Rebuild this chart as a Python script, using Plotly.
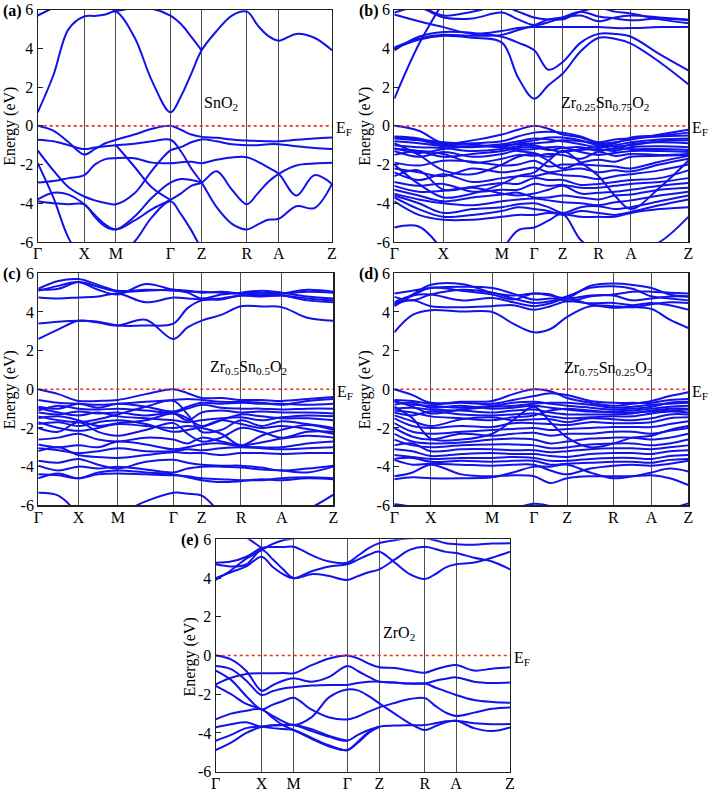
import plotly.graph_objects as go

# ---------------- shared tick data ----------------
K_LABELS = ["Γ", "X", "M", "Γ", "Z", "R", "A", "Z"]
E_TICKS = [-6, -4, -2, 0, 2, 4, 6]
E_TICK_TEXT = ["-6", "-4", "-2", "0", "2", "4", "6"]
E_FERMI = 0.0
N = None

# ---------------- (a) SnO2 ----------------
a_hs = [0, 0.158, 0.266, 0.451, 0.557, 0.711, 0.819, 1.0]
a_k = [0, 0.053, 0.105, 0.158, 0.194, 0.230, 0.266, 0.328, 0.389, 0.451, 0.486,
       0.522, 0.557, 0.608, 0.660, 0.711, 0.747, 0.783, 0.819, 0.879, 0.940, 1.0]
a_c1 = [0.7, 2.6, 5.0, 5.65, 5.68, 5.75, 5.9, 4.6, 2.3, 0.7, 1.5, 2.7, 3.9, 4.9, 5.7, 5.9, 5.2, 4.65, 4.4, 4.75, 4.55, 3.9]
a_c2 = [5.7, 6.1, 6.5, 6.6, 6.4, 6.2, 5.95, 6.1, 6.05, 5.7, 5.27, 4.6, 3.9, N, N, N, N, N, N, N, N, N]
a_v1 = [0, -0.25, -0.85, -1.48, -1.2, -0.9, -0.72, -0.45, -0.15, 0, -0.2, -0.45, -0.57, -0.62, -0.7, -0.76, -0.78, -0.8, -0.8, -0.72, -0.65, -0.6]
a_v2 = [-0.72, -0.8, -1.0, -1.2, -1.12, -1.05, -1.0, -0.92, -0.8, -0.72, -1.3, -2.2, -2.93, -4.2, -5.06, -5.35, -5.1, -4.85, -4.8, -4.15, -4.25, -3.0]
a_v3 = [-1.27, -2.3, -3.17, -3.65, -3.85, -3.98, -4.05, -3.5, -2.3, -1.27, -1.1, -0.85, -0.7, -0.8, -0.95, -1.0, -1.0, -0.95, -0.95, -1.05, -1.15, -1.19]
a_v4 = [-1.93, -3.7, -5.8, -7.0, -7.3, -7.2, -6.8, -6.0, -4.7, -3.9, -4.55, -5.4, -6.3, -7.0, N, N, N, N, N, N, N, N]
a_v5 = [-2.93, -2.85, -2.7, -2.55, -2.0, -1.72, -1.67, -1.67, -1.9, -1.93, -1.88, -1.85, -1.93, -1.75, -1.63, -1.62, -1.85, -2.15, -2.48, -3.6, -2.55, -3.0]
a_v6 = [-3.8, -3.45, -3.55, -4.05, -4.6, -5.1, -5.35, -4.9, -4.3, -3.82, -3.5, -3.1, -2.93, -2.35, -3.3, -4.05, -3.5, -2.9, -2.48, -2.05, -1.95, -1.91]
a_v7 = [-3.9, -4.0, -4.05, -4.05, -4.7, -5.2, -5.35, -4.7, -3.7, -2.93, -2.75, -2.8, -2.93, N, N, N, N, N, N, N, N, N]
a_v8 = [N, N, N, N, N, N, -1.0, -2.1, -3.2, -3.82, N, N, N, N, N, N, N, N, N, N, N, N]

# ---------------- (b) Zr0.25Sn0.75O2 ----------------
b_hs = [0, 0.167, 0.366, 0.476, 0.573, 0.695, 0.805, 1.0]
b_k = [0, 0.083, 0.167, 0.266, 0.366, 0.421, 0.476, 0.524, 0.573, 0.634, 0.695, 0.750, 0.805, 0.902, 1.0]
b_c1 = [1.4, 4.2, 6.4, N, N, N, N, N, N, N, N, N, N, N, N]
b_c2 = [4.0, 4.45, 4.65, 4.55, 4.3, 2.5, 1.4, 2.1, 2.7, 3.85, 4.55, 4.5, 4.25, 3.3, 2.15]
b_c3 = [3.9, 4.6, 4.85, 4.8, 4.6, 4.3, 3.9, 2.9, 3.3, 4.3, 4.75, 4.75, 4.6, 3.7, 2.86]
b_c4 = [5.75, 5.4, 5.1, 4.75, 4.9, 5.05, 5.1, 5.1, 5.1, 5.1, 5.1, 5.05, 5.05, 5.1, 5.1]
b_c5 = [5.85, 6.1, 5.6, 5.55, 5.85, 5.5, 5.2, 5.35, 5.6, 5.9, 5.65, 5.55, 5.45, 5.55, 5.45]
b_c6 = [6.4, 6.2, 5.7, 5.9, 6.2, 5.9, 5.6, 5.5, 5.5, 5.9, 6.1, 5.9, 5.8, 5.5, 5.3]
b_c7 = [4.05, 4.5, 4.7, 4.65, 4.7, 4.95, 5.2, 5.5, 5.6, 5.7, 5.4, 5.6, 5.7, 5.6, 5.5]
b_v1 = [0, -0.25, -0.9, -0.75, -0.45, -0.2, 0, -0.15, -0.45, -0.6, -0.9, -0.85, -0.7, -0.45, -0.2]
b_v2 = [-0.55, -0.65, -0.95, -0.9, -0.8, -0.55, -0.35, -0.3, -0.35, -0.55, -0.85, -0.7, -0.65, -0.55, -0.5]
b_v3 = [-0.65, -0.75, -1.0, -1.05, -0.95, -0.8, -0.65, -0.7, -0.8, -0.95, -1.1, -1.0, -0.85, -0.7, -0.65]
b_v4 = [-0.8, -0.9, -1.05, -1.1, -1.0, -0.95, -0.9, -0.85, -0.75, -0.8, -0.95, -1.05, -1.0, -0.8, -0.75]
b_v5 = [-1.0, -1.1, -1.15, -1.3, -1.2, -1.05, -1.0, -1.2, -1.35, -1.2, -1.05, -1.2, -0.95, -0.85, -0.9]
b_v6 = [-1.15, -1.4, -1.2, -1.05, -1.1, -1.3, -1.4, -1.6, -1.3, -1.25, -1.2, -1.3, -1.1, -1.05, -1.1]
b_v7 = [-1.3, -1.6, -1.35, -1.6, -1.45, -1.25, -1.2, -1.1, -1.1, -1.35, -1.5, -1.4, -1.3, -1.3, -1.35]
b_v8 = [-1.5, -1.3, -1.45, -1.9, -1.7, -1.5, -1.55, -1.45, -1.5, -1.7, -1.35, -1.55, -1.45, -1.5, -1.45]
b_v9 = [-0.9, -1.5, -2.3, -2.5, -2.0, -1.6, -1.45, -1.8, -2.2, -1.9, -1.75, -1.85, -1.6, -1.55, -1.5]
b_v10 = [-1.9, -2.05, -1.8, -1.85, -2.05, -2.0, -1.8, -2.1, -2.0, -2.0, -2.05, -2.1, -2.2, -1.85, -1.55]
b_v11 = [-2.2, -2.4, -2.6, -2.2, -2.4, -2.3, -2.15, -2.4, -2.3, -2.2, -2.4, -2.3, -2.35, -2.0, -1.7]
b_v12 = [-2.4, -2.8, -2.5, -2.9, -2.7, -2.6, -2.6, -2.45, -2.55, -2.6, -2.75, -2.6, -2.5, -2.3, -2.0]
b_v13 = [-2.6, -2.3, -3.3, -3.15, -2.95, -3.0, -2.7, -2.8, -2.8, -3.05, -3.0, -2.9, -2.8, -2.7, -2.3]
b_v14 = [-2.9, -3.1, -3.0, -3.4, -3.3, -3.3, -3.0, -3.1, -3.05, -3.2, -3.2, -3.1, -3.0, -2.9, -2.7]
b_v15 = [-3.1, -3.4, -3.35, -3.2, -3.5, -3.6, -3.5, -3.3, -3.1, -3.5, -3.45, -3.4, -3.3, -3.1, -2.95]
b_v16 = [-3.3, -3.6, -3.9, -3.7, -3.55, -3.45, -3.7, -3.7, -3.6, -3.7, -3.8, -3.6, -3.55, -3.3, -3.2]
b_v17 = [-3.5, -3.8, -4.0, -4.1, -3.9, -3.8, -3.75, -3.85, -3.95, -4.0, -4.1, -3.95, -3.85, -3.6, -3.4]
b_v18 = [-3.6, -4.0, -4.5, -4.3, -4.2, -4.05, -4.0, -4.2, -4.5, -4.2, -4.15, -4.3, -4.2, -3.9, -3.6]
b_v19 = [-3.7, -4.3, -4.7, -4.6, -4.4, -4.2, -4.3, -4.4, -4.6, -4.4, -4.5, -4.6, -4.45, -4.1, -3.8]
b_v20 = [-3.9, -4.6, -4.85, -4.85, -4.7, -4.6, -4.6, -4.5, -4.55, -4.7, -4.7, -4.7, -4.5, -4.3, -4.2]
b_v21 = [-5.25, -5.2, -6.5, N, -6.5, -5.4, -5.25, -4.9, -4.55, -5.9, -6.5, N, -6.5, -6.0, -4.7]
b_v22 = [-0.6, -0.7, -0.85, -0.95, -1.1, -0.9, -0.75, -0.6, -0.6, -0.75, -1.0, -0.9, -0.6, -0.5, -0.35]
b_v23 = [-1.2, -1.3, -1.6, -1.45, -1.3, -1.15, -1.1, -1.25, -1.15, -1.1, -1.3, -1.15, -1.2, -1.2, -1.25]
b_v24 = [-2.0, -3.0, -3.7, -3.5, -3.0, -2.6, -2.4, -1.8, -1.3, -1.9, -2.6, -3.6, -4.3, -3.2, -1.8]

# ---------------- (c) Zr0.5Sn0.5O2 ----------------
c_hs = [0, 0.136, 0.270, 0.458, 0.554, 0.687, 0.825, 1.0]
c_k = [0, 0.068, 0.136, 0.203, 0.270, 0.364, 0.458, 0.506, 0.554, 0.620, 0.687, 0.756, 0.825, 0.912, 1.0]
c_c1 = [2.6, 3.1, 3.55, 3.45, 3.3, 3.6, 2.6, 3.2, 3.55, 3.85, 4.3, 4.28, 4.25, 3.7, 3.55]
c_c2 = [3.4, 3.5, 3.55, 3.5, 3.3, 3.3, 3.4, 4.2, 4.6, 4.65, 4.85, 4.85, 4.85, 4.6, 4.5]
c_c3 = [4.75, 4.7, 4.75, 4.8, 4.95, 4.5, 4.75, 4.7, 4.65, 4.7, 4.85, 4.8, 4.85, 4.7, 4.6]
c_c4 = [5.1, 5.35, 5.55, 5.15, 4.9, 5.45, 5.15, 5.1, 5.0, 5.05, 4.95, 4.9, 4.95, 5.15, 5.05]
c_c5 = [5.15, 5.2, 5.55, 5.3, 5.05, 5.1, 5.15, 5.05, 5.05, 5.0, 4.95, 5.0, 4.95, 5.05, 5.0]
c_c6 = [5.2, 5.6, 5.7, 5.4, 5.1, 5.15, 5.1, 5.0, 4.7, 4.9, 5.0, 5.1, 5.0, 4.8, 4.7]
c_v1 = [0, -0.25, -0.6, -0.6, -0.55, -0.25, 0, -0.2, -0.45, -0.45, -0.55, -0.55, -0.6, -0.5, -0.4]
c_v2 = [-0.55, -0.7, -0.75, -0.8, -0.75, -0.65, -0.55, -0.5, -0.55, -0.65, -0.65, -0.7, -0.8, -0.6, -0.5]
c_v3 = [-0.9, -1.0, -0.75, -0.95, -0.75, -0.9, -1.15, -0.9, -0.7, -0.75, -0.7, -0.75, -0.75, -0.8, -0.75]
c_v4 = [-1.1, -0.85, -1.0, -1.05, -1.0, -1.1, -1.2, -1.0, -0.8, -0.95, -1.0, -1.0, -1.05, -1.0, -1.0]
c_v5 = [-1.2, -1.3, -1.15, -1.25, -1.2, -1.35, -1.25, -1.6, -1.2, -1.1, -1.2, -1.15, -1.2, -1.2, -1.25]
c_v6 = [-1.4, -1.6, -1.7, -1.55, -1.3, -0.9, -0.6, -1.3, -2.2, -2.1, -1.6, -1.9, -1.65, -1.8, -2.0]
c_v7 = [-1.5, -1.4, -1.6, -1.9, -1.75, -1.6, -1.25, -1.5, -1.9, -1.6, -1.3, -1.4, -1.5, -1.5, -1.6]
c_v8 = [-1.7, -2.0, -2.15, -2.0, -1.8, -1.9, -2.0, -1.9, -2.0, -2.3, -2.9, -2.4, -2.1, -1.85, -2.1]
c_v9 = [-2.0, -2.2, -1.7, -2.2, -2.4, -2.1, -1.75, -2.3, -2.7, -2.5, -2.0, -2.2, -2.5, -2.2, -2.2]
c_v10 = [-2.6, -2.5, -2.3, -2.6, -2.7, -2.5, -2.6, -2.8, -2.5, -2.7, -2.9, -2.75, -2.55, -2.4, -2.5]
c_v11 = [-2.85, -3.0, -2.9, -3.0, -2.7, -2.85, -3.1, -3.0, -2.85, -2.8, -2.95, -3.0, -3.0, -2.8, -2.7]
c_v12 = [-3.05, -3.15, -3.3, -3.2, -3.05, -3.2, -3.2, -3.1, -3.15, -3.05, -3.0, -3.05, -3.1, -3.05, -3.0]
c_v13 = [-3.2, -3.0, -3.4, -3.5, -3.55, -3.4, -3.25, -3.3, -3.3, -3.4, -3.3, -3.3, -3.35, -3.3, -3.3]
c_v14 = [-3.7, -3.8, -3.6, -3.9, -4.1, -3.75, -3.65, -3.8, -3.9, -3.95, -3.95, -4.05, -4.2, -4.1, -3.95]
c_v15 = [-3.95, -4.2, -4.0, -4.1, -4.0, -4.15, -4.3, -4.1, -4.0, -4.0, -4.05, -4.15, -4.2, -4.3, -4.0]
c_v16 = [-4.4, -4.45, -4.6, -4.4, -4.35, -4.4, -4.45, -4.5, -4.6, -4.65, -4.7, -4.7, -4.6, -4.55, -4.6]
c_v17 = [-4.6, -4.35, -4.6, -4.3, -4.2, -4.3, -4.4, -4.55, -4.7, -4.8, -4.75, -4.65, -4.7, -4.6, -4.65]
c_v18 = [-5.35, -5.5, -6.5, N, -6.5, -5.8, -5.35, -5.4, -5.5, -6.5, N, N, -6.5, -6.2, -5.45]
c_v19 = [-0.95, -1.2, -1.35, -1.2, -1.4, -1.5, -1.6, -1.7, -1.6, -1.5, -1.45, -1.6, -1.45, -1.35, -1.4]
c_v20 = [-1.8, -1.7, -1.9, -1.7, -1.6, -1.8, -2.2, -2.1, -1.95, -1.6, -1.8, -2.0, -1.9, -2.05, -2.3]

# ---------------- (d) Zr0.75Sn0.25O2 ----------------
d_hs = [0, 0.124, 0.333, 0.475, 0.588, 0.745, 0.875, 1.0]
d_k = [0, 0.062, 0.124, 0.228, 0.333, 0.404, 0.475, 0.531, 0.588, 0.666, 0.745, 0.810, 0.875, 0.937, 1.0]
d_c1 = [2.95, 3.85, 4.09, 4.02, 4.0, 3.4, 2.95, 3.12, 3.75, 4.3, 4.22, 4.25, 4.15, 3.6, 3.17]
d_c2 = [4.38, 4.6, 4.3, 4.25, 4.3, 4.35, 4.12, 4.3, 4.55, 4.45, 4.47, 4.35, 4.47, 4.35, 4.12]
d_c3 = [4.5, 4.85, 4.9, 4.6, 4.72, 4.5, 4.3, 4.45, 4.7, 4.4, 4.3, 4.25, 4.4, 4.5, 4.47]
d_c4 = [4.78, 4.6, 4.9, 5.15, 5.0, 4.7, 4.47, 4.55, 4.81, 5.25, 5.33, 5.2, 4.81, 4.7, 4.6]
d_c5 = [4.95, 5.1, 5.24, 5.3, 5.24, 4.95, 4.64, 4.7, 4.72, 5.35, 5.47, 5.4, 5.24, 4.9, 4.8]
d_c6 = [4.4, 4.9, 5.41, 5.45, 5.0, 4.85, 4.95, 4.9, 4.55, 4.8, 4.9, 5.05, 5.05, 5.0, 4.95]
d_c7 = [4.3, 4.85, 5.25, 5.1, 4.9, 4.65, 4.95, 4.85, 4.7, 4.85, 4.85, 4.6, 4.7, 4.8, 4.8]
d_v1 = [0, -0.3, -0.7, -0.65, -0.6, -0.25, 0, -0.1, -0.45, -0.7, -0.85, -0.75, -0.6, -0.35, -0.15]
d_v2 = [-0.55, -0.6, -0.75, -0.7, -0.75, -0.55, -0.35, -0.2, -0.3, -0.6, -0.7, -0.7, -0.7, -0.55, -0.5]
d_v3 = [-0.65, -0.8, -0.85, -0.95, -0.85, -0.7, -0.65, -0.75, -0.85, -0.95, -1.05, -1.0, -0.9, -0.7, -0.65]
d_v4 = [-0.8, -0.7, -0.95, -0.85, -1.0, -0.95, -0.85, -0.95, -1.05, -1.15, -1.15, -1.1, -1.0, -0.9, -0.85]
d_v5 = [-1.0, -0.95, -1.05, -1.1, -1.2, -1.1, -1.05, -1.2, -1.3, -1.3, -1.3, -1.25, -1.1, -1.0, -1.0]
d_v6 = [-1.2, -1.35, -1.15, -1.3, -1.35, -1.3, -1.25, -1.4, -1.5, -1.45, -1.4, -1.4, -1.25, -1.15, -1.2]
d_v7 = [-1.35, -1.65, -1.9, -1.55, -1.45, -1.6, -1.55, -1.55, -1.7, -1.5, -1.55, -1.6, -1.5, -1.3, -1.3]
d_v8 = [-1.5, -1.9, -2.0, -1.9, -1.95, -1.75, -1.75, -1.8, -1.85, -1.7, -1.75, -1.75, -1.7, -1.5, -1.45]
d_v9 = [-1.75, -2.2, -2.3, -2.2, -2.1, -2.05, -2.0, -2.1, -2.05, -2.0, -1.95, -1.95, -1.95, -1.8, -1.65]
d_v10 = [-0.9, -1.5, -2.55, -2.6, -2.3, -1.6, -0.9, -1.7, -2.5, -3.0, -2.8, -2.5, -2.4, -2.1, -1.9]
d_v11 = [-2.0, -2.45, -2.6, -2.3, -2.4, -2.3, -2.25, -2.4, -2.3, -2.3, -2.2, -2.2, -2.3, -2.15, -2.0]
d_v12 = [-2.3, -2.7, -2.8, -2.75, -2.6, -2.55, -2.6, -2.8, -2.7, -2.55, -2.5, -2.5, -2.6, -2.5, -2.3]
d_v13 = [-2.6, -2.9, -3.0, -2.9, -2.85, -2.85, -2.9, -3.05, -3.0, -2.85, -2.8, -2.8, -2.9, -2.8, -2.6]
d_v14 = [-2.9, -2.8, -3.2, -3.1, -3.1, -3.15, -3.15, -3.25, -3.2, -3.1, -3.05, -3.05, -3.1, -3.0, -2.9]
d_v15 = [-3.1, -3.2, -3.45, -3.35, -3.3, -3.35, -3.35, -3.45, -3.5, -3.35, -3.3, -3.3, -3.35, -3.2, -3.15]
d_v16 = [-3.4, -3.5, -3.6, -3.55, -3.55, -3.5, -3.55, -3.7, -3.7, -3.6, -3.55, -3.55, -3.6, -3.45, -3.4]
d_v17 = [-3.6, -3.55, -3.75, -3.7, -3.75, -3.7, -3.7, -3.9, -3.85, -3.8, -3.75, -3.75, -3.8, -3.65, -3.6]
d_v18 = [-3.65, -3.9, -3.85, -3.9, -3.95, -3.9, -3.9, -4.2, -4.4, -4.1, -3.95, -3.9, -3.95, -3.85, -3.7]
d_v19 = [-4.5, -4.3, -3.9, -4.4, -4.5, -4.45, -4.5, -4.85, -4.6, -4.5, -4.5, -4.5, -4.45, -4.6, -4.95]
d_v20 = [-4.65, -4.55, -4.6, -4.6, -4.55, -4.3, -4.0, -4.0, -3.9, -4.3, -4.6, -4.5, -4.3, -4.1, -4.25]
d_v21 = [-0.6, -0.9, -1.25, -1.05, -0.9, -0.85, -0.75, -0.7, -0.7, -0.8, -0.95, -0.9, -0.8, -0.75, -0.7]
d_v22 = [-1.1, -1.2, -1.4, -1.5, -1.6, -1.45, -1.35, -1.1, -1.0, -1.1, -1.2, -1.2, -1.15, -1.1, -1.05]
d_v23 = [-5.95, -6.1, -6.5, N, N, -6.2, -5.92, -6.05, -6.5, N, N, N, N, -6.2, -5.9]

# ---------------- (e) ZrO2 ----------------
e_hs = [0, 0.156, 0.265, 0.447, 0.556, 0.711, 0.817, 1.0]
e_k = [0, 0.052, 0.104, 0.156, 0.192, 0.229, 0.265, 0.326, 0.386, 0.447, 0.483,
       0.520, 0.556, 0.608, 0.659, 0.711, 0.746, 0.782, 0.817, 0.878, 0.939, 1.0]
e_c1 = [3.9, 4.4, 5.0, 5.45, 5.75, 5.95, 6.05, 6.3, 6.4, 6.5, N, N, N, N, N, N, N, N, N, N, N, N]
e_c2 = [3.99, 4.3, 4.6, 5.1, 4.6, 4.2, 3.99, 4.35, 4.6, 4.71, 4.95, 5.2, 5.36, 4.8, 4.2, 3.95, 4.2, 4.55, 4.71, 4.8, 5.05, 5.36]
e_c3 = [4.79, 4.85, 5.1, 5.55, 5.6, 5.6, 5.62, 5.18, 4.85, 4.79, 5.15, 5.55, 5.8, 5.95, 6.05, 6.05, 5.95, 5.8, 5.75, 5.72, 5.78, 5.8]
e_c4 = [4.71, 4.6, 4.7, 5.45, 5.0, 4.45, 3.99, 4.2, 4.1, 3.9, 4.1, 4.3, 4.45, 4.95, 5.45, 5.62, 5.5, 5.35, 5.29, 5.05, 4.85, 4.45]
e_c5 = [N, 6.6, 6.1, 5.55, N, N, N, N, N, N, N, N, N, N, N, N, N, N, N, N, N, N]
e_v1 = [0, -0.2, -0.8, -1.82, -1.55, -1.3, -1.18, -1.35, -1.1, -0.54, -0.8, -1.1, -1.35, -1.4, -1.45, -1.45, -1.3, -1.2, -1.13, -1.35, -1.42, -1.4]
e_v2 = [-0.54, -0.7, -1.3, -2.04, -1.85, -1.7, -1.64, -1.55, -1.52, -1.52, -1.42, -1.36, -1.35, -1.4, -1.45, -1.45, -1.65, -1.85, -2.04, -2.3, -2.4, -2.44]
e_v3 = [-0.78, -1.26, -2.1, -2.78, -2.55, -2.35, -2.18, -2.8, -3.2, -3.3, -3.15, -2.9, -2.68, -2.45, -2.25, -2.2, -2.6, -2.95, -3.12, -2.95, -2.75, -2.68]
e_v4 = [-1.49, -1.15, -0.95, -0.92, -0.92, -0.9, -0.92, -0.5, -0.15, 0, -0.15, -0.42, -0.61, -0.65, -0.78, -0.89, -0.72, -0.57, -0.49, -0.78, -0.68, -0.61]
e_v5 = [-1.57, -2.0, -2.5, -2.78, -3.1, -3.4, -3.59, -3.18, -2.15, -1.75, -1.8, -2.1, -2.47, -3.0, -3.5, -3.85, -3.65, -3.45, -3.37, -3.75, -3.9, -3.71]
e_v6 = [-3.3, -3.0, -2.85, -2.78, -3.2, -3.6, -3.85, -4.3, -4.7, -4.88, -4.5, -4.0, -3.68, -3.62, -3.6, -3.59, -3.5, -3.4, -3.37, -3.5, -3.55, -3.54]
e_v7 = [-3.71, -3.55, -3.45, -3.68, -3.62, -3.6, -3.59, -3.9, -4.2, -4.4, -4.1, -3.85, -3.68, N, N, N, N, N, N, N, N, N]
e_v8 = [-4.4, -4.1, -3.75, -3.68, -3.75, -3.8, -3.85, -4.25, -4.65, -4.88, -4.45, -3.95, -3.68, N, N, N, N, N, N, N, N, N]
e_v9 = [-4.88, -4.5, -4.0, -3.68, -3.6, -3.58, -3.59, -3.8, -4.15, -4.4, N, N, N, N, N, N, N, N, N, N, N, N]

# ---------------- figure assembly ----------------
W, H = 709, 792
FONT = "Liberation Serif"
BLUE = "rgb(18,18,235)"


def px(x):
    return x / W


def py(y):
    return 1 - y / H


panels = [
    dict(k=a_k, hs=a_hs, bands=[a_c1, a_c2, a_v1, a_v2, a_v3, a_v4, a_v5, a_v6, a_v7, a_v8],
         box=(37.7, 9.7, 332.0, 242.0), tag="(a)", title_x=10,
         name="SnO<sub>2</sub>", name_xy=(221, 104)),
    dict(k=b_k, hs=b_hs, bands=[b_c1, b_c2, b_c3, b_c4, b_c5, b_c6, b_c7, b_v1, b_v2, b_v3, b_v4,
                                b_v5, b_v6, b_v7, b_v8, b_v9, b_v10, b_v11, b_v12, b_v13, b_v14,
                                b_v15, b_v16, b_v17, b_v18, b_v19, b_v20, b_v21, b_v22, b_v23, b_v24],
         box=(394.3, 9.7, 688.3, 242.0), tag="(b)", title_x=365,
         name="Zr<sub>0.25</sub>Sn<sub>0.75</sub>O<sub>2</sub>", name_xy=(605, 103)),
    dict(k=c_k, hs=c_hs, bands=[c_c1, c_c2, c_c3, c_c4, c_c5, c_c6, c_v1, c_v2, c_v3, c_v4, c_v5,
                                c_v6, c_v7, c_v8, c_v9, c_v10, c_v11, c_v12, c_v13, c_v14, c_v15,
                                c_v16, c_v17, c_v18, c_v19, c_v20],
         box=(38.3, 273.3, 333.3, 505.3), tag="(c)", title_x=10,
         name="Zr<sub>0.5</sub>Sn<sub>0.5</sub>O<sub>2</sub>", name_xy=(248, 367)),
    dict(k=d_k, hs=d_hs, bands=[d_c1, d_c2, d_c3, d_c4, d_c5, d_c6, d_c7, d_v1, d_v2, d_v3, d_v4,
                                d_v5, d_v6, d_v7, d_v8, d_v9, d_v10, d_v11, d_v12, d_v13, d_v14,
                                d_v15, d_v16, d_v17, d_v18, d_v19, d_v20, d_v21, d_v22, d_v23],
         box=(394.3, 273.3, 688.3, 505.3), tag="(d)", title_x=365,
         name="Zr<sub>0.75</sub>Sn<sub>0.25</sub>O<sub>2</sub>", name_xy=(608, 368)),
    dict(k=e_k, hs=e_hs, bands=[e_c1, e_c2, e_c3, e_c4, e_c5, e_v1, e_v2, e_v3, e_v4, e_v5, e_v6,
                                e_v7, e_v8, e_v9],
         box=(215.7, 539.3, 510.0, 771.7), tag="(e)", title_x=189,
         name="ZrO<sub>2</sub>", name_xy=(399, 633)),
]

fig = go.Figure()
layout = dict(template="none", width=W, height=H, autosize=False,
              margin=dict(l=0, r=0, t=0, b=0, pad=0),
              paper_bgcolor="white", plot_bgcolor="white", showlegend=False,
              font=dict(family=FONT, size=15, color="black"))
annotations = []

for i, p in enumerate(panels):
    n = "" if i == 0 else str(i + 1)
    xa, ya = "x" + n, "y" + n
    L, T, R, B = p["box"]
    layout["xaxis" + n] = dict(
        domain=[px(L), px(R)], range=[0, 1], anchor=ya, automargin=False,
        tickvals=p["hs"], ticktext=K_LABELS, ticks="", ticklabelstandoff=-3,
        showgrid=True, gridcolor="#505050", gridwidth=1,
        zeroline=False, showline=True, mirror=True, linecolor="#202020", linewidth=1.2,
        tickfont=dict(family=FONT, size=16, color="black"), fixedrange=True)
    layout["yaxis" + n] = dict(
        domain=[py(B), py(T)], range=[-6, 6], anchor=xa, automargin=False,
        tickvals=E_TICKS, ticktext=E_TICK_TEXT, ticks="inside", ticklen=5,
        tickcolor="#202020", showgrid=False, zeroline=False, showline=True,
        mirror=True, linecolor="#202020", linewidth=1.2,
        tickfont=dict(family=FONT, size=16, color="black"), fixedrange=True)
    for band in p["bands"]:
        fig.add_trace(go.Scatter(
            x=p["k"], y=band, mode="lines", xaxis=xa, yaxis=ya,
            line=dict(color=BLUE, width=2, shape="spline", smoothing=1.0),
            hoverinfo="skip", connectgaps=False))
    fig.add_trace(go.Scatter(
        x=[p["k"][0], p["k"][-1]], y=[E_FERMI, E_FERMI], mode="lines",
        xaxis=xa, yaxis=ya, line=dict(color="#e8332a", width=1.6, dash="dot"),
        hoverinfo="skip"))
    y0 = T + (B - T) / 2
    annotations.append(dict(text="Energy (eV)", textangle=-90, x=px(p["title_x"]), y=py(y0 + 1),
                            xref="paper", yref="paper", xanchor="center", yanchor="middle",
                            showarrow=False, font=dict(family=FONT, size=16, color="black")))
    annotations.append(dict(text="<b>" + p["tag"] + "</b>", x=px(L - 37), y=py(T + 1),
                            xref="paper", yref="paper", xanchor="left", yanchor="middle",
                            showarrow=False, font=dict(family=FONT, size=16, color="black")))
    annotations.append(dict(text=p["name"], x=px(p["name_xy"][0]), y=py(p["name_xy"][1]),
                            xref="paper", yref="paper", xanchor="center", yanchor="middle",
                            showarrow=False, font=dict(family=FONT, size=16, color="black")))
    annotations.append(dict(text="E<sub>F</sub>", x=px(R + 1.5), y=py(y0 + 3),
                            xref="paper", yref="paper", xanchor="left", yanchor="middle",
                            showarrow=False, font=dict(family=FONT, size=16, color="black")))

layout["annotations"] = annotations
fig.update_layout(**layout)
fig.write_html("out.html", config={"displayModeBar": False, "staticPlot": True},
               post_script="document.body.style.margin='0px';document.body.style.padding='0px';"
                           "document.body.style.overflow='hidden';")
